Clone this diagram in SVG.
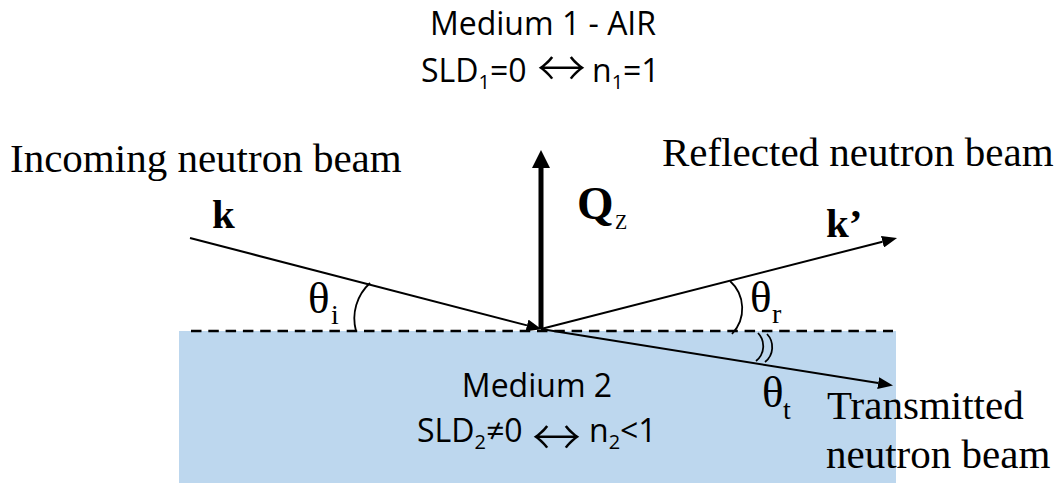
<svg xmlns="http://www.w3.org/2000/svg" width="1060" height="483" viewBox="0 0 1060 483">
<style>
.cal{font-family:"Open Sans","Noto Sans","Liberation Sans",sans-serif;font-size:32px;fill:#000}
.sub{font-size:20px}
.arr{font-family:"Noto Sans CJK SC","DejaVu Sans",sans-serif;font-size:49px;font-weight:300}
.tnr{font-family:"Liberation Serif","Times New Roman",serif;font-size:41px;fill:#000}
.bold{font-weight:bold}
.th{font-family:"Liberation Serif","Times New Roman",serif;font-size:45px;fill:#000}
.ths{font-family:"Liberation Serif","Times New Roman",serif;font-size:28px;fill:#000}
.beam{stroke:#000;stroke-width:2;fill:none}
.arc{stroke:#000;stroke-width:1.8;fill:none}
</style>
<defs>
<marker id="head" markerUnits="userSpaceOnUse" markerWidth="15" markerHeight="12" viewBox="0 0 15 12" refX="0" refY="6" orient="auto">
<path d="M0,0 L15,6 L0,12 z" fill="#000"/>
</marker>
<marker id="headQ" markerUnits="userSpaceOnUse" markerWidth="18" markerHeight="18" viewBox="0 0 18 18" refX="0" refY="9" orient="auto">
<path d="M0,0 L18,9 L0,18 z" fill="#000"/>
</marker>
</defs>
<rect width="1060" height="483" fill="#fff"/>

<g id="medium2">
<rect x="179" y="331" width="717" height="152" fill="#BDD7EE"/>
<text class="cal" x="537" y="397" text-anchor="middle">Medium 2</text>
<text class="cal" y="442"><tspan x="417">SLD</tspan><tspan class="sub" dy="7">2</tspan><tspan dy="-7">≠0</tspan><tspan class="arr" x="532" y="455">↔</tspan><tspan x="589" y="442">n</tspan><tspan class="sub" dy="7">2</tspan><tspan dy="-7">&lt;1</tspan></text>
</g>

<g id="surface">
<line x1="191" y1="331" x2="893" y2="331" stroke="#000" stroke-width="2.6" stroke-dasharray="10.5 6.8"/>
</g>

<g id="medium1">
<text class="cal" x="543" y="35" text-anchor="middle">Medium 1 - AIR</text>
<text class="cal" y="82"><tspan x="421">SLD</tspan><tspan class="sub" dy="7">1</tspan><tspan dy="-7">=0</tspan><tspan class="arr" x="537" y="86">↔</tspan><tspan x="592" y="82">n</tspan><tspan class="sub" dy="7">1</tspan><tspan dy="-7">=1</tspan></text>
</g>

<g id="connectors">
<line id="incoming" class="beam" x1="190" y1="238" x2="527" y2="325.4" marker-end="url(#head)"/>
<line id="reflected" class="beam" x1="541" y1="329" x2="882.5" y2="241.7" marker-end="url(#head)"/>
<line id="transmitted" class="beam" x1="541" y1="329" x2="878.2" y2="383.1" marker-end="url(#head)"/>
<line id="qz" x1="541" y1="329" x2="541" y2="168" stroke="#000" stroke-width="5" marker-end="url(#headQ)"/>
</g>

<g id="angles">
<path class="arc" d="M370 283 A48 48 0 0 0 356 331"/>
<path class="arc" d="M730 281 A37 37 0 0 1 732 334"/>
<path class="arc" d="M758 333 A19 19 0 0 1 756 361"/>
<path class="arc" d="M767 334 A19 19 0 0 1 765 362"/>
<text class="th" x="308" y="313">θ</text><text class="ths" x="331" y="324">i</text>
<text class="th" x="750" y="312">θ</text><text class="ths" x="772" y="323">r</text>
<text class="th" x="762" y="407">θ</text><text class="ths" x="783" y="419">t</text>
</g>

<g id="labels">
<text id="lbl-incoming" class="tnr" x="10" y="172">Incoming neutron beam</text>
<text id="lbl-reflected" class="tnr" x="662" y="166">Reflected neutron beam</text>
<text id="lbl-transmitted" class="tnr"><tspan x="827" y="419">Transmitted</tspan><tspan x="826" y="468">neutron beam</tspan></text>
<text id="lbl-k" class="tnr bold" x="212" y="228">k</text>
<text id="lbl-k2" class="tnr bold" x="826" y="237">k’</text>
<text id="lbl-qz" class="tnr"><tspan class="bold" x="577" y="219" font-size="47">Q</tspan><tspan x="615" y="229" font-size="20">Z</tspan></text>
</g>
</svg>
